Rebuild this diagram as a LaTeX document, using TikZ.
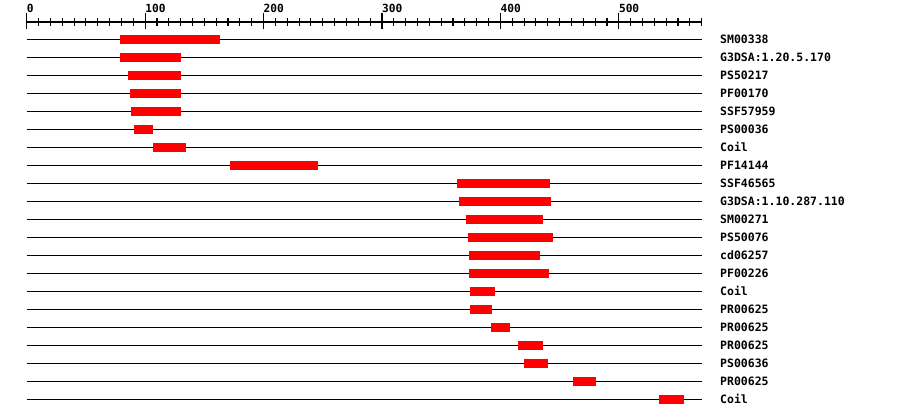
\documentclass[tikz,border=0pt]{standalone}
\usepackage{fontspec}
\newfontfamily\pixmono{DejaVu Sans Mono}
\begin{document}
\begin{tikzpicture}[x=1pt,y=-1pt,
  lbl/.style={font=\pixmono\bfseries\fontsize{11.5}{12}\selectfont, inner sep=0pt, anchor=base west},
  axlbl/.style={font=\pixmono\bfseries\fontsize{11.2}{12}\selectfont, inner sep=0pt, anchor=base west},
  track/.style={line width=1.1pt, black},
  bar/.style={fill=red, draw=none},
  axisline/.style={line width=1.1pt, black}]
\useasboundingbox (0,0) rectangle (900,418);
% axis
\draw[axisline] (26.7,22) -- (701.7,22);
\foreach \v in {0,10,...,570}{
  \draw[axisline] ({26.7+1.1842*\v},18) -- ({26.7+1.1842*\v},26);
}
\foreach \v in {0,100,...,500}{
  \draw[axisline] ({26.7+1.1842*\v},12.5) -- ({26.7+1.1842*\v},28.7);
  \node[axlbl] (ax\v) at ({26.7+1.1842*\v},12.3) {\v};
}
% tracks
\foreach \lab/\s/\e [count=\i] in {
  SM00338/120/220,
  G3DSA:1.20.5.170/120/181,
  PS50217/128/181,
  PF00170/130/181,
  SSF57959/131/181,
  PS00036/134/153,
  Coil/153/186,
  PF14144/230/318,
  SSF46565/457/550,
  G3DSA:1.10.287.110/459/551,
  SM00271/466/543,
  PS50076/468/553,
  cd06257/469/540,
  PF00226/469/549,
  Coil/470/495,
  PR00625/470/492,
  PR00625/491/510,
  PR00625/518/543,
  PS00636/524/548,
  PR00625/573/596,
  Coil/659/684}{
  \pgfmathsetmacro{\yy}{39.3+18*(\i-1)}
  \draw[track] (26.7,\yy) -- (701.7,\yy);
  \fill[bar] (\s,\yy-4.5) rectangle (\e,\yy+4.5);
  \node[lbl] (t\i) at (720,\yy+4) {\lab};
}
\end{tikzpicture}
\end{document}
